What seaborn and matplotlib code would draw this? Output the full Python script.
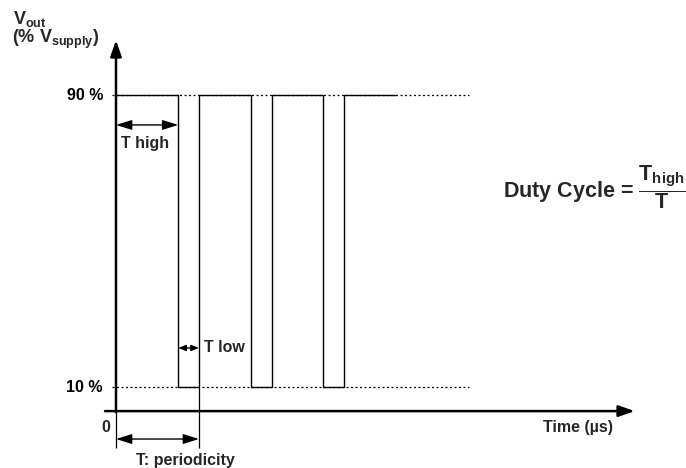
import matplotlib
matplotlib.use("Agg")
import matplotlib.pyplot as plt
from matplotlib.patches import ArrowStyle
import seaborn as sns

# ---- data ----
edge_times = [0, 3, 4, 6.5, 7.5, 10, 11, 13.5]      # µs, switching instants
edge_levels = [90, 10, 90, 10, 90, 10, 90, 90]      # % of V_supply
level_values = [90, 10]
level_labels = ["90 %", "10 %"]
t_high = 3
period = 4
ref_line_end = 17
axis_end_time = 25
axis_top = 105

sns.set_theme(style="white")
plt.rcParams["font.family"] = ["Liberation Sans", "DejaVu Sans"]
plt.rcParams["font.weight"] = "bold"
plt.rcParams["mathtext.fontset"] = "custom"
plt.rcParams["mathtext.rm"] = "Liberation Sans:bold"
plt.rcParams["mathtext.it"] = "Liberation Sans:bold"
plt.rcParams["mathtext.bf"] = "Liberation Sans:bold"
plt.rcParams["mathtext.sf"] = "Liberation Sans:bold"
plt.rcParams["mathtext.default"] = "rm"

fig = plt.figure(figsize=(6.86, 4.68), dpi=100)
ax = fig.add_axes([0, 0, 1, 1])
ax.set_xlim(-5.59, 27.47)
ax.set_ylim(-12.19, 116.03)
ax.axis("off")

axis_y = 3.4
FS = 11.5

# dotted reference levels
for v, lab in zip(level_values, level_labels):
    ax.hlines(v, -0.2, ref_line_end, colors="black", lw=0.9,
              linestyles=(0, (1.6, 2.0)), zorder=1)
    ax.text(-0.63, v, lab, ha="right", va="center", fontsize=FS,
            fontweight="bold", color="black")

# waveform
sns.lineplot(x=edge_times, y=edge_levels, drawstyle="steps-post",
             estimator=None, color="black", lw=1.0, ax=ax, zorder=3)

# axes with arrows
head = ArrowStyle("-|>", head_length=0.8, head_width=0.28)
ax.annotate("", xy=(axis_end_time, axis_y), xytext=(-0.53, axis_y),
            arrowprops=dict(arrowstyle=head, lw=1.8, color="black",
                            mutation_scale=12, shrinkA=0, shrinkB=0))
ax.annotate("", xy=(0, axis_top), xytext=(0, axis_y - 0.3),
            arrowprops=dict(arrowstyle=head, lw=1.8, color="black",
                            mutation_scale=12, shrinkA=0, shrinkB=0))

# period markers
ax.vlines([0], -6.7, axis_y, colors="black", lw=0.9)
ax.vlines([period], -6.7, 10, colors="black", lw=0.9)

dbl = ArrowStyle("<|-|>", head_length=0.8, head_width=0.25)
ax.annotate("", xy=(t_high, 81.8), xytext=(0, 81.8),
            arrowprops=dict(arrowstyle=dbl, lw=1.0, color="black",
                            mutation_scale=12, shrinkA=0, shrinkB=0))
ax.text(1.42, 76.8, "T high", ha="center", va="center", fontsize=FS,
        fontweight="bold")

ax.annotate("", xy=(period, -4.25), xytext=(0, -4.25),
            arrowprops=dict(arrowstyle=dbl, lw=1.0, color="black",
                            mutation_scale=12, shrinkA=0, shrinkB=0))
ax.text(3.33, -10.0, "T: periodicity", ha="center", va="center",
        fontsize=FS, fontweight="bold")

small = ArrowStyle("<|-|>", head_length=0.5, head_width=0.2)
ax.annotate("", xy=(period, 20.7), xytext=(t_high, 20.7),
            arrowprops=dict(arrowstyle=small, lw=1.0, color="black",
                            mutation_scale=9, shrinkA=0, shrinkB=0))
ax.text(4.24, 20.7, "T low", ha="left", va="center", fontsize=FS,
        fontweight="bold")

ax.text(-0.48, -0.96, "0", ha="center", va="center", fontsize=FS,
        fontweight="bold")
ax.text(23.95, -1.2, "Time (µs)", ha="right", va="center", fontsize=FS,
        fontweight="bold")

# y label
fig.text(13 / 686, 1 - 24 / 468, r"$V_{out}$", ha="left", va="baseline",
         fontsize=13)
fig.text(12 / 686, 1 - 43 / 468, r"(% $V_{supply}$)", ha="left",
         va="baseline", fontsize=13, fontweight="bold")

# duty cycle formula
fig.text(503 / 686, 1 - 198 / 468, r"Duty Cycle = $\dfrac{T_{high}}{T}$",
         ha="left", va="baseline", fontsize=15.5, fontweight="bold")

fig.savefig("out.png", dpi=100)
